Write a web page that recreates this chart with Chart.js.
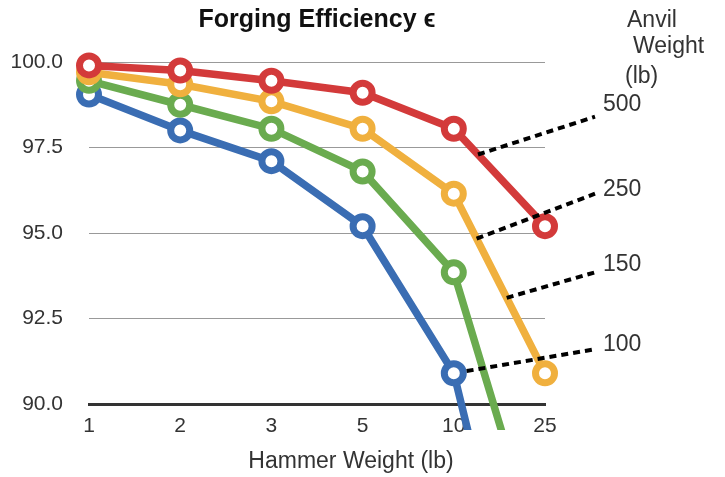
<!DOCTYPE html>
<html>
<head>
<meta charset="utf-8">
<script src="https://cdn.jsdelivr.net/npm/chart.js@4/dist/chart.umd.min.js"></script>
<style>
html, body { margin: 0; padding: 0; background: #fff; }
</style>
</head>
<body>
<canvas id="chart" width="725" height="477"></canvas>
<script>
let hammerWeights = ['1', '2', '3', '5', '10', '25'];
let anvil500 = [99.9, 99.75, 99.45, 99.1, 98.05, 95.2];
let anvil250 = [99.7, 99.35, 98.85, 98.05, 96.15, 90.9];
let anvil150 = [99.45, 98.75, 98.05, 96.8, 93.85, 85.0];
let anvil100 = [99.05, 98.0, 97.1, 95.2, 90.9, 80.0];
let yTicks = [90, 92.5, 95, 97.5, 100];

// callouts: which series the dashed line leaves from (at category position "from"),
// and the value it ends at / the label sits at, out to the right of the plot
let callouts = [
    { text: '500', series: 0, from: 4.265, to: 98.4, at: 98.74, gap: 0 },
    { text: '250', series: 1, from: 4.25, to: 96.15, at: 96.26, gap: 0 },
    { text: '150', series: 1, from: 4.58, to: 93.85, at: 94.06, gap: 0 },
    { text: '100', series: 3, from: 4, to: 91.6, at: 91.73, gap: 13 }
];

Chart.defaults.font.family = '"Liberation Sans", Arial, sans-serif';
Chart.defaults.color = '#333';

let textFont = '23px "Liberation Sans", Arial, sans-serif';

let sidePlugin = {
    id: 'side',
    afterDatasetsDraw(chart) {
        let { ctx, chartArea, scales: { x, y } } = chart;
        ctx.save();
        callouts.forEach(c => {
            let vals = chart.data.datasets[c.series].data;
            let i = Math.floor(c.from), t = c.from - i;
            let x0 = x.getPixelForValue(c.from);
            let y0 = y.getPixelForValue(vals[i] + (vals[i + 1] - vals[i]) * t);
            let x1 = chartArea.right + 50;
            let y1 = y.getPixelForValue(c.to);
            if (c.gap) {
                let len = Math.hypot(x1 - x0, y1 - y0);
                x0 += (x1 - x0) / len * c.gap;
                y0 += (y1 - y0) / len * c.gap;
            }
            ctx.setLineDash([7, 5]);
            ctx.lineWidth = 4;
            ctx.strokeStyle = '#000';
            ctx.beginPath();
            ctx.moveTo(x0, y0);
            ctx.lineTo(x1, y1);
            ctx.stroke();
            ctx.setLineDash([]);
            ctx.fillStyle = '#333';
            ctx.font = textFont;
            ctx.textAlign = 'left';
            ctx.textBaseline = 'middle';
            ctx.fillText(c.text, chartArea.right + 58, y.getPixelForValue(c.at));
        });

        ctx.font = textFont;
        ctx.fillStyle = '#333';
        ctx.textBaseline = 'alphabetic';
        ctx.fillText('Anvil', chartArea.right + 82, 27);
        ctx.fillText('Weight', chartArea.right + 88, 53);
        ctx.fillText('(lb)', chartArea.right + 80, 83);

        ctx.textAlign = 'center';
        ctx.textBaseline = 'middle';
        ctx.fillText('Hammer Weight (lb)', (chartArea.left + chartArea.right) / 2 + 34, 462);
        ctx.restore();
    }
};

let series = (label, data, color) => ({
    label: label,
    data: data,
    borderColor: color,
    backgroundColor: color,
    borderWidth: 7.5,
    pointRadius: 9.5,
    pointBorderWidth: 7,
    pointBackgroundColor: '#fff',
    pointBorderColor: color,
    tension: 0,
    clip: { left: 20, top: 20, right: 20, bottom: 26 }
});

let ctx = document.querySelector('#chart').getContext('2d');
const chart = new Chart(ctx, {
    type: 'line',
    data: {
        labels: hammerWeights,
        datasets: [
            series('500', anvil500, '#d33a3a'),
            series('250', anvil250, '#f0b03e'),
            series('150', anvil150, '#6aab4f'),
            series('100', anvil100, '#3a6db3')
        ]
    },
    options: {
        responsive: false,
        animation: false,
        events: [],
        layout: { padding: { left: 0, right: 180, top: 0, bottom: 0 } },
        plugins: {
            legend: { display: false },
            tooltip: { enabled: false },
            title: {
                display: true,
                text: 'Forging Efficiency \u03f5',
                fullSize: false,
                color: '#111',
                font: { size: 25, weight: 'bold' },
                padding: { top: 5, bottom: 27 }
            }
        },
        scales: {
            x: {
                offset: false,
                grid: { display: false, drawTicks: false },
                border: { display: true, color: '#333', width: 3 },
                ticks: { font: { size: 21 }, color: '#333', padding: 10, autoSkip: false, maxRotation: 0 },
                afterFit: s => { s.height = 73; }
            },
            y: {
                min: 90,
                max: 100,
                grid: { color: '#999', lineWidth: 1, drawTicks: false },
                border: { display: false },
                ticks: { font: { size: 21 }, color: '#333', padding: 26, callback: v => v.toFixed(1) },
                afterBuildTicks: s => { s.ticks = yTicks.map(v => ({ value: v })); },
                afterFit: s => { s.width = 89; }
            }
        }
    },
    plugins: [sidePlugin]
});
</script>
</body>
</html>
